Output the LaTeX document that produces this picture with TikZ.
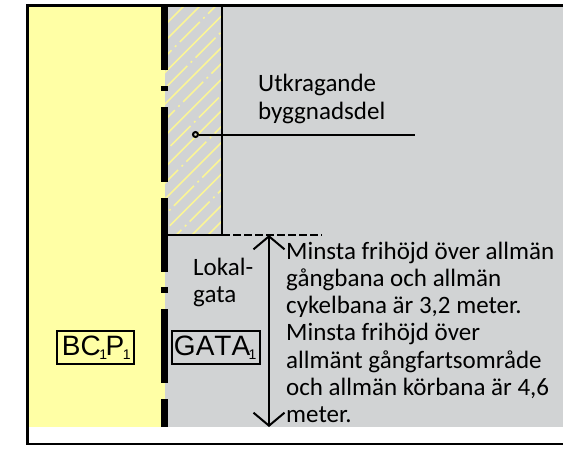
\documentclass[tikz,border=0pt]{standalone}
\usepackage{fontspec}
\setmainfont{Carlito}
\newfontfamily\arialfont[Kerning=Off]{Liberation Sans}
\usetikzlibrary{arrows.meta,positioning}
\definecolor{plotyellow}{RGB}{255,255,165}
\definecolor{plotgrey}{RGB}{209,211,212}
\definecolor{hatchyellow}{RGB}{250,245,150}
\newcommand{\subone}{\kern-1.5pt\raisebox{-4pt}{\fontsize{14}{14}\selectfont 1}\kern-1.5pt}
\tikzset{
  labeltext/.style={inner sep=0pt,font=\fontsize{25}{27.3}\selectfont,align=left},
  planbox/.style={draw,line width=2pt,inner sep=0pt,minimum height=33pt,font=\arialfont\fontsize{28}{28}\selectfont},
  hatchsolid/.style={hatchyellow,line width=1.6pt},
  hatchdash/.style={hatchsolid,dash pattern=on 2pt off 4.85pt on 28.3pt off 4.85pt},
  thinline/.style={line width=2pt},
  heightarrow/.style={thinline,{Straight Barb[length=13pt,width=31pt,line width=2pt]}-{Straight Barb[length=13pt,width=31pt,line width=2pt]}},
}
\begin{document}
\begin{tikzpicture}[x=1pt,y=-1pt]
    \useasboundingbox (0,0) rectangle (563,451);
    % areas
    \fill[plotyellow] (28,6) rectangle (165,427);
    \fill[plotgrey] (165,6) rectangle (563,427);
    % hatching
    \begin{scope}
      \clip (165,6) rectangle (222,235);
      \foreach \k in {-3,...,9} {
        \draw[hatchdash] ({175+15.8*\k-113.2},{46.7+15.8*\k+113.2}) -- +(300,-300);
        \draw[hatchsolid] ({175+15.8*\k+15.8-100},{46.7+15.8*\k+100}) -- +(300,-300);
      }
    \end{scope}
    % boundary dashes
    \foreach \ya/\yb in {6/70,86/91,107/182,198/272,287/293,309/383,399/427}
      \fill (161,\ya) rectangle (168,\yb);
    % frame
    \coordinate (frame_tr) at (563,5.5);
    \coordinate (frame_tl) at (27.5,5.5);
    \coordinate (frame_bl) at (27.5,444);
    \coordinate (frame_br) at (563,444);
    \draw[line width=2.2pt] (frame_tr) -- (frame_tl) -- (frame_bl) -- (frame_br);
    % overhang
    \coordinate (over_t) at (222,6);
    \coordinate (over_b) at (222,235);
    \coordinate (over_l) at (168,235);
    \coordinate (dash_e) at (321.5,235);
    \draw[thinline] (over_t) -- (over_b) -- (over_l);
    \draw[thinline,dash pattern=on 7.5pt off 3.5pt] (over_b) -- (dash_e);
    % leader
    \node[circle,draw,line width=2pt,inner sep=0pt,minimum size=5pt] (dot) at (195.5,134.5) {};
    \coordinate (lead_e) at (415,134.5);
    \draw[thinline] (dot) -- (lead_e);
    % height
    \coordinate (h_t) at (269,235);
    \coordinate (h_b) at (269,427);
    \draw[heightarrow] (h_t) -- (h_b);
    % labels
    \node[labeltext,anchor=north west] (over_lab) at (258,73.7) {Utkragande\\[0.7pt]byggnadsdel};
    \node[labeltext,anchor=north west] (gata_lab) at (193,258.4) {Lokal-\\[-0.8pt]gata};
    \node[labeltext,anchor=north west] (height_lab) at (286,241.5) {Minsta frihöjd över allmän\\gångbana och allmän\\cykelbana är 3,2 meter.\\Minsta frihöjd över\\allmänt gångfartsområde\\och allmän körbana är 4,6\\meter.};
    \node[planbox,minimum width=77pt] (bc_box) at (95.5,347.5) {BC\subone P\subone};
    \node[planbox,minimum width=88pt] (gata_box) at (216,347.5) {GATA\subone\kern3pt};
\end{tikzpicture}
\end{document}
